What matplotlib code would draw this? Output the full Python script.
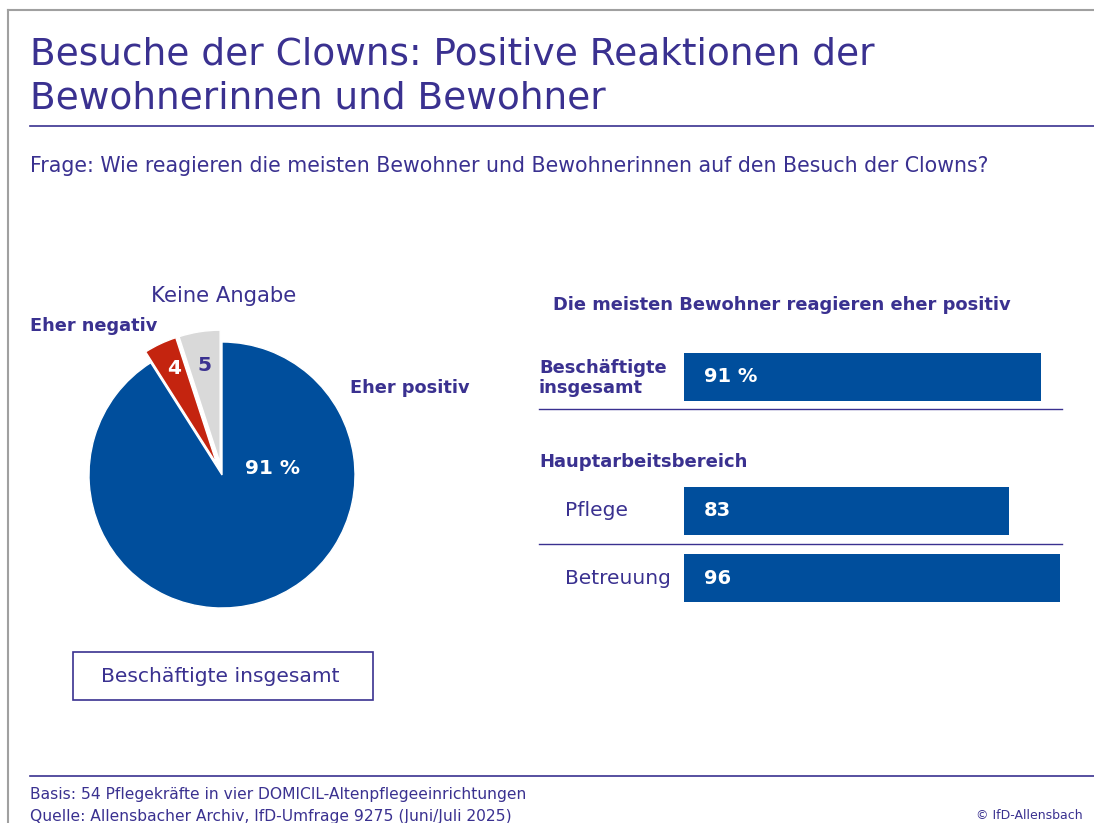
import matplotlib
matplotlib.use("Agg")
import matplotlib.pyplot as plt
from matplotlib.patches import Rectangle

# ---- data ----
pie_labels = ["Eher positiv", "Eher negativ", "Keine Angabe"]
pie_values = [91, 4, 5]
pie_value_labels = ["91 %", "4", "5"]

bar_categories = ["Beschäftigte\ninsgesamt", "Pflege", "Betreuung"]
bar_values = [91, 83, 96]
bar_value_labels = ["91 %", "83", "96"]

title_lines = ["Besuche der Clowns: Positive Reaktionen der", "Bewohnerinnen und Bewohner"]
question = "Frage: Wie reagieren die meisten Bewohner und Bewohnerinnen auf den Besuch der Clowns?"
bar_heading = "Die meisten Bewohner reagieren eher positiv"
group_heading = "Hauptarbeitsbereich"
box_label = "Beschäftigte insgesamt"
footer1 = "Basis: 54 Pflegekräfte in vier DOMICIL-Altenpflegeeinrichtungen"
footer2 = "Quelle: Allensbacher Archiv, IfD-Umfrage 9275 (Juni/Juli 2025)"
copyright_txt = "© IfD-Allensbach"

# ---- style ----
PURPLE = "#3a3190"
BLUE = "#004e9c"
RED = "#c4240f"
GRAY = "#d9d9d9"
FONT = "DejaVu Sans"
plt.rcParams["font.family"] = [FONT]

W, H = 1094, 823
fig = plt.figure(figsize=(W / 100, H / 100), dpi=100)

# background axes in pixel coordinates
bg = fig.add_axes([0, 0, 1, 1])
bg.set_xlim(0, W)
bg.set_ylim(H, 0)
bg.axis("off")

# frame lines
bg.plot([8, W], [10, 10], color="#a0a0a0", lw=1.5)
bg.plot([8, 8], [10, H], color="#a0a0a0", lw=1.5)

bg.text(30, 64, title_lines[0], color=PURPLE, fontsize=27, va="baseline", ha="left")
bg.text(30, 108, title_lines[1], color=PURPLE, fontsize=27, va="baseline", ha="left")
bg.plot([30, W], [126, 126], color=PURPLE, lw=1.2)
bg.text(30, 172, question, color=PURPLE, fontsize=14.8, va="baseline", ha="left")

# ---- pie ----
cx, cy, R = 222, 475, 133
S = 1.6
pax = fig.add_axes([(cx - S * R) / W, 1 - (cy + S * R) / H, 2 * S * R / W, 2 * S * R / H])
wedges, _ = pax.pie(pie_values, colors=[BLUE, RED, GRAY], startangle=90, counterclock=False,
                    explode=[0, 0.09, 0.09], radius=1,
                    wedgeprops=dict(edgecolor="white", linewidth=1.0))
pax.set_xlim(-S, S)
pax.set_ylim(-S, S)
pax.set_aspect("equal")
pax.axis("off")

# value labels inside pie
pax.text(0.38, 0.05, pie_value_labels[0], color="white", fontsize=14.5, fontweight="bold", ha="center", va="center")
pax.text(-0.36, 0.80, pie_value_labels[1], color="white", fontsize=14.5, fontweight="bold", ha="center", va="center")
pax.text(-0.13, 0.82, pie_value_labels[2], color=PURPLE, fontsize=14.5, fontweight="bold", ha="center", va="center")

# category labels around pie
bg.text(350, 393, pie_labels[0], color=PURPLE, fontsize=12.8, fontweight="bold", ha="left", va="baseline")
bg.text(30, 331, pie_labels[1], color=PURPLE, fontsize=12.8, fontweight="bold", ha="left", va="baseline")
bg.text(224, 302, pie_labels[2], color=PURPLE, fontsize=15.2, ha="center", va="baseline")

# box under pie
bg.add_patch(Rectangle((73, 652), 300, 48, fill=False, edgecolor=PURPLE, lw=1.2))
bg.text(220, 677, box_label, color=PURPLE, fontsize=14.6, ha="center", va="center")

# ---- bars ----
bx0, bx1 = 684, 1076  # pixel extent of 0..100
by0, by1 = 330, 620
bax = fig.add_axes([bx0 / W, 1 - by1 / H, (bx1 - bx0) / W, (by1 - by0) / H])
bax.set_xlim(0, 100)
bax.set_ylim(by1, by0)
bax.axis("off")
bar_centers = [376.5, 511, 578]
bar_h = 48
bax.barh(bar_centers, bar_values, height=bar_h, color=BLUE, left=0)
for yc, lab in zip(bar_centers, bar_value_labels):
    bax.text(5, yc, lab, color="white", fontsize=14, fontweight="bold", ha="left", va="center")

bg.text(553, 310, bar_heading, color=PURPLE, fontsize=12.85, fontweight="bold", ha="left", va="baseline")
bg.text(539, 378, bar_categories[0], color=PURPLE, fontsize=12.9, fontweight="bold", ha="left", va="center", linespacing=1.2)
bg.text(539, 467, group_heading, color=PURPLE, fontsize=13.0, fontweight="bold", ha="left", va="baseline")
bg.text(565, 511, bar_categories[1], color=PURPLE, fontsize=14.6, ha="left", va="center")
bg.text(565, 578, bar_categories[2], color=PURPLE, fontsize=14.5, ha="left", va="center")
bg.plot([539, 1062], [409, 409], color=PURPLE, lw=1.0)
bg.plot([539, 1062], [544, 544], color=PURPLE, lw=1.0)

# ---- footer ----
bg.plot([30, W], [776, 776], color=PURPLE, lw=1.2)
bg.text(30, 799, footer1, color=PURPLE, fontsize=11.2, ha="left", va="baseline")
bg.text(30, 821, footer2, color=PURPLE, fontsize=11.2, ha="left", va="baseline")
bg.text(1083, 819, copyright_txt, color=PURPLE, fontsize=9, ha="right", va="baseline")

fig.savefig("out.png", dpi=100)
